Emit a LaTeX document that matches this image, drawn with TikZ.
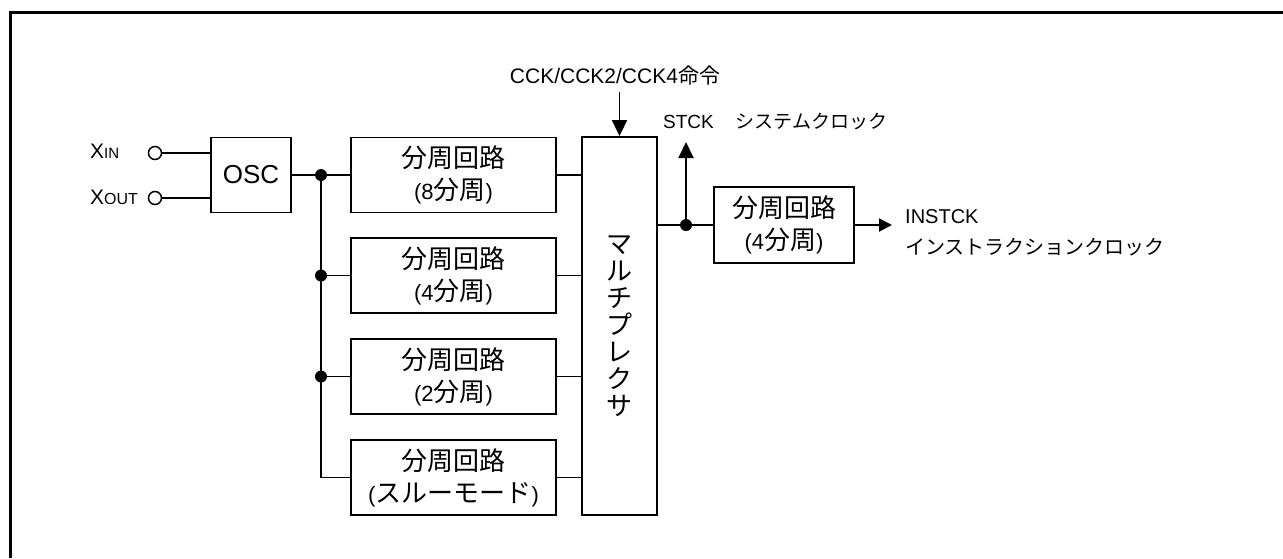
\documentclass[tikz,border=0pt]{standalone}
\usepackage{fontspec}
\setmainfont{Liberation Sans}
\newfontfamily\cjk{Noto Sans CJK JP}
\usetikzlibrary{arrows.meta}
\newcommand\JB[1]{{\fontsize{26}{32}\selectfont\cjk #1}}
\begin{document}
\begin{tikzpicture}[x=1pt,y=-1pt,
  wire/.style={line width=1.9pt},
  blk/.style={draw, line width=1.9pt, minimum width=205pt, minimum height=75pt, align=center, inner sep=0pt, font=\fontsize{22}{32}\selectfont},
  jdot/.style={circle, fill, inner sep=0pt, minimum size=12pt},
  term/.style={circle, draw, line width=1.5pt, inner sep=0pt, minimum size=13pt, fill=white},
  lbl/.style={inner sep=0pt},
  tipbig/.style={-{Triangle[length=16pt,width=15pt]}},
  tipsmall/.style={-{Triangle[length=13pt,width=13pt]}}
]
\useasboundingbox (0,0) rectangle (1283,558);
% frame
\draw[line width=3pt] (10,558) -- (10,12) -- (1283,12);

% inputs
\node[term] (ti) at (155,153) {};
\node[term] (to) at (155,198) {};
\node[lbl, anchor=base west] (xin) at (90,158) {\fontsize{21}{21}\selectfont X\fontsize{15}{15}\selectfont IN};
\node[lbl, anchor=base west] (xout) at (90,204) {\fontsize{21}{21}\selectfont X\fontsize{16}{16}\selectfont OUT};
\node[draw, line width=1.9pt, minimum width=80pt, minimum height=75pt, inner sep=0pt, font=\fontsize{26}{26}\selectfont] (osc) at (251,175) {OSC};
\draw[wire] (ti) -- (ti -| osc.west);
\draw[wire] (to) -- (to -| osc.west);

% dividers
\node[blk] (d1) at (453.5,175) {\JB{分周回路}\\(8\JB{分周})};
\node[blk] (d2) at (453.5,275.5) {\JB{分周回路}\\(4\JB{分周})};
\node[blk] (d3) at (453.5,376.5) {\JB{分周回路}\\(2\JB{分周})};
\node[blk] (d4) at (453.5,477.5) {\JB{分周回路}\\(\JB{スルーモード})};

\node[jdot] (j1) at (321,175) {};
\node[jdot] (j2) at (321,275.5) {};
\node[jdot] (j3) at (321,376.5) {};
\coordinate (j4) at (321,477.5);

\draw[wire] (osc.east) -- (j1) -- (d1.west);
\draw[wire] (j1) -- (j4) -- (d4.west);
\draw[wire] (j2) -- (d2.west);
\draw[wire] (j3) -- (d3.west);

% multiplexer
\node[draw, line width=1.9pt, minimum width=75pt, minimum height=378pt, inner sep=0pt, align=center, font=\fontsize{26}{27}\selectfont\cjk] (mux) at (619.5,326) {マ\\ル\\チ\\プ\\レ\\ク\\サ};
\draw[wire] (d1.east) -- (d1.east -| mux.west);
\draw[wire] (d2.east) -- (d2.east -| mux.west);
\draw[wire] (d3.east) -- (d3.east -| mux.west);
\draw[wire] (d4.east) -- (d4.east -| mux.west);

% command input
\node[lbl, font=\fontsize{21}{21}\selectfont] (cck) at (615,76) {CCK/CCK2/CCK4{\cjk 命令}};
\coordinate (cckt) at (619.5,92);
\draw[wire, tipbig] (cckt) -- (mux.north);

% output
\node[jdot] (j5) at (686,225) {};
\node[draw, line width=1.9pt, minimum width=140pt, minimum height=76pt, inner sep=0pt, align=center, font=\fontsize{22}{32}\selectfont] (d5) at (784,225) {\JB{分周回路}\\(4\JB{分周})};
\draw[wire] (j5 -| mux.east) -- (j5) -- (d5.west);
\coordinate (stck) at (686,142);
\draw[wire, tipbig] (j5) -- (stck);
\node[lbl, anchor=base west, font=\fontsize{19}{19}\selectfont] (stckl) at (663,128) {STCK\hspace{22pt}{\cjk システムクロック}};

\coordinate (out) at (892,225);
\draw[wire, tipsmall] (d5.east) -- (out);
\node[lbl, anchor=base west, align=left, font=\fontsize{20}{31}\selectfont] (instl) at (905,254) {INSTCK\\{\cjk インストラクションクロック}};
\end{tikzpicture}
\end{document}
